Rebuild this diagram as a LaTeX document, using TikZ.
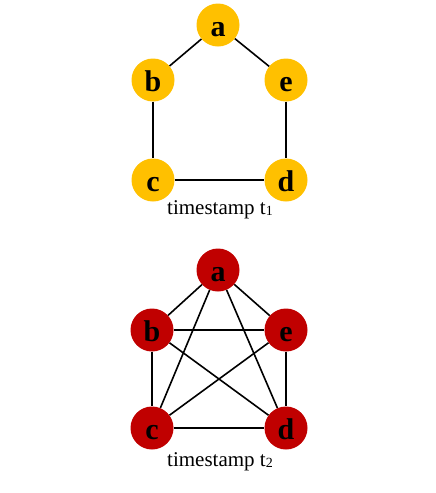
\documentclass[tikz,border=0pt]{standalone}
\usepackage{fontspec}
\setmainfont{Liberation Serif}
\definecolor{nyellow}{HTML}{FFC000}
\definecolor{nred}{HTML}{C00000}
\begin{document}
\begin{tikzpicture}[x=1pt,y=-1pt,
  vtx/.style={circle,minimum size=43pt,inner sep=0pt,text height=22pt,text depth=0pt,font=\fontsize{30}{30}\selectfont\bfseries},
  yv/.style={vtx,fill=nyellow},
  rv/.style={vtx,fill=nred},
  edge/.style={draw=black,line width=1.6pt},
  captext/.style={font=\fontsize{21}{21}\selectfont}]
\useasboundingbox (0,0) rectangle (436,493);
% top graph
\node[yv] (a1) at (218,25) {a};
\node[yv] (b1) at (153,80) {b};
\node[yv] (e1) at (286,80) {e};
\node[yv] (c1) at (153,180) {c};
\node[yv] (d1) at (286,180) {d};
\draw[edge] (a1) -- (b1);
\draw[edge] (a1) -- (e1);
\draw[edge] (b1) -- (c1);
\draw[edge] (e1) -- (d1);
\draw[edge] (c1) -- (d1);
\node[captext] (l1) at (220,210) {timestamp t\raisebox{-0.5pt}{\fontsize{14}{14}\selectfont 1}};
% bottom graph
\node[rv] (a2) at (218,270) {a};
\node[rv] (b2) at (152,330) {b};
\node[rv] (e2) at (286,330) {e};
\node[rv] (c2) at (152,428) {c};
\node[rv] (d2) at (286,428) {d};
\draw[edge] (a2) -- (b2);
\draw[edge] (a2) -- (e2);
\draw[edge] (a2) -- (c2);
\draw[edge] (a2) -- (d2);
\draw[edge] (b2) -- (e2);
\draw[edge] (b2) -- (c2);
\draw[edge] (b2) -- (d2);
\draw[edge] (e2) -- (c2);
\draw[edge] (e2) -- (d2);
\draw[edge] (c2) -- (d2);
\node[captext] (l2) at (220,462) {timestamp t\raisebox{-0.5pt}{\fontsize{14}{14}\selectfont 2}};
\end{tikzpicture}
\end{document}
